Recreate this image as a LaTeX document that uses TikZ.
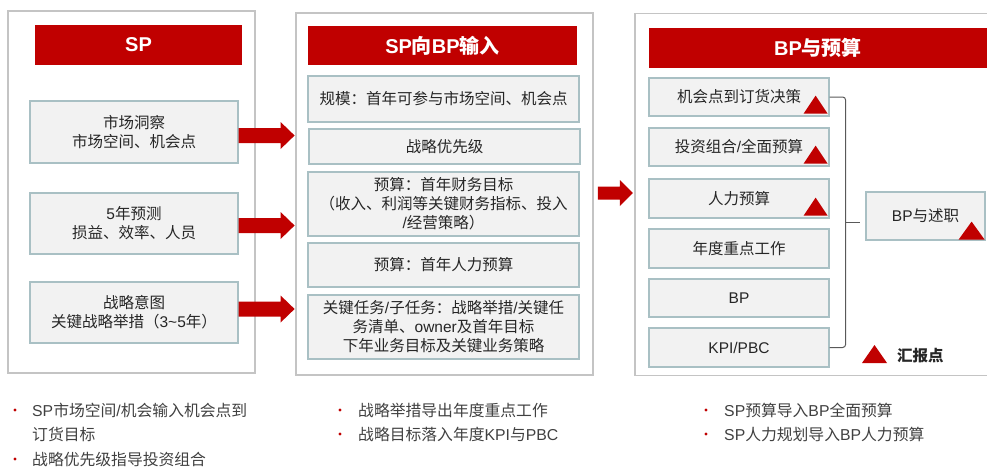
\documentclass[tikz,border=0pt]{standalone}
\usepackage{fontspec}
\setmainfont{Noto Sans CJK SC}
\newfontfamily\latf{Liberation Sans}
\newcommand\LS[1]{{\latf #1}}
\usetikzlibrary{calc}
\definecolor{hred}{HTML}{C00000}
\definecolor{pborder}{HTML}{C4C4C4}
\definecolor{bborder}{HTML}{A9C0C4}
\definecolor{bfill}{HTML}{F2F2F2}
\definecolor{txt}{HTML}{262626}
\definecolor{btxt}{HTML}{404040}
\definecolor{brk}{HTML}{595959}
\begin{document}
\begin{tikzpicture}[x=1pt,y=-1pt,
  panel/.style={draw=pborder,line width=1.5pt,inner sep=0},
  header/.style={fill=hred,text=white,font=\fontsize{20}{24}\selectfont\bfseries,inner sep=0},
  box/.style={draw=bborder,fill=bfill,line width=1.2pt,text=txt,
    font=\fontsize{15.5}{19}\selectfont,align=center,inner sep=0},
  bul/.style={anchor=west,inner sep=0,text=btxt,font=\fontsize{15.8}{19}\selectfont,
    text height=13,text depth=1},
  dot/.style={fill=hred},
  tri/.style={fill=hred},
  blk/.style={fill=hred},
  brace/.style={draw=brk,line width=1pt,rounded corners=3}
]
\useasboundingbox (0,0) rectangle (987,466);
\clip (0,0) rectangle (987,466);

% ---------- panel 1 ----------
\node[panel,minimum width=247,minimum height=362] (p1) at (131.5,192) {};
\node[header,minimum width=207,minimum height=40] (h1) at (138.5,45) {\LS{\bfseries SP}};
\node[box,minimum width=208,minimum height=62] (b1) at (134,132) {市场洞察\\市场空间、机会点};
\node[box,minimum width=208,minimum height=61] (b2) at (134,223.5) {\LS{5}年预测\\损益、效率、人员};
\node[box,minimum width=208,minimum height=61] (b3) at (134,312.5) {战略意图\\关键战略举措（\LS{3\textasciitilde5}年）};

% ---------- panel 2 ----------
\node[panel,minimum width=297,minimum height=362] (p2) at (444.5,194) {};
\node[header,minimum width=269,minimum height=39] (h2) at (442.5,45.5) {\LS{\bfseries SP}向\LS{\bfseries BP}输入};
\node[box,minimum width=271,minimum height=46] (m1) at (443.5,99) {规模：首年可参与市场空间、机会点};
\node[box,minimum width=271,minimum height=35] (m2) at (444.5,146.5) {战略优先级};
\node[box,minimum width=271,minimum height=64] (m3) at (443.5,204) {预算：首年财务目标\\（收入、利润等关键财务指标、投入\\\LS{/}经营策略）};
\node[box,minimum width=271,minimum height=44] (m4) at (443.5,265) {预算：首年人力预算};
\node[box,minimum width=271,minimum height=64] (m5) at (443.5,327) {关键任务\LS{/}子任务：战略举措\LS{/}关键任\\务清单、\LS{owner}及首年目标\\下年业务目标及关键业务策略};

% ---------- panel 3 ----------
\node[panel,minimum width=362,minimum height=362] (p3) at (816,194.5) {};
\node[header,minimum width=338,minimum height=40] (h3) at (818,48) {\LS{\bfseries BP}与预算};
\node[box,minimum width=180,minimum height=38] (r1) at (739,97) {机会点到订货决策};
\node[box,minimum width=180,minimum height=38] (r2) at (739,147) {投资组合\LS{/}全面预算};
\node[box,minimum width=180,minimum height=39] (r3) at (739,198.5) {人力预算};
\node[box,minimum width=180,minimum height=39] (r4) at (739,248.5) {年度重点工作};
\node[box,minimum width=180,minimum height=38] (r5) at (739,298) {\LS{BP}};
\node[box,minimum width=180,minimum height=39] (r6) at (739,347.5) {\LS{KPI/PBC}};
\node[box,minimum width=119,minimum height=48] (bp) at (925.5,216) {\LS{BP}与述职};

% triangles (report points)
\foreach \b in {r1,r2,r3}{
  \fill[tri] ($(\b.south east)+(-2,-3)$) -- ++(-24,0) -- ++(12,-18) -- cycle;
}
\fill[tri] ($(bp.south east)+(-1,-1)$) -- ++(-26,0) -- ++(13,-18) -- cycle;

% brace
\draw[brace] (r1.east) -- ++(16,0) |- (r6.east);
\coordinate (bk) at ($(r1.east)!.5!(r6.east)+(16,0)$);
\coordinate (bkend) at ($(bp.west |- bk)+(-5,0)$);
\draw[brk,line width=1pt] (bk) -- (bkend);

% legend
\coordinate (lg) at (874.5,363);
\fill[tri] (lg) ++(-12.5,0) -- ++(25,0) -- ++(-12.5,-18) -- cycle;
\node[anchor=west,inner sep=0,text=txt,font=\fontsize{15.5}{19}\selectfont\bfseries,
  text height=13,text depth=1] (lgt) at (897,355) {汇报点};

% ---------- block arrows ----------
\foreach \b/\dy in {b1/3.5,b2/2,b3/-3.5}{
  \fill[blk] ($(\b.east)+(0,\dy)$) ++(0,-7.5) -- ++(42,0) -- ++(0,-6) -- ++(14,13.5)
     -- ++(-14,13.5) -- ++(0,-6) -- ++(-42,0) -- cycle;
}
\fill[blk] ($(p2.east)+(4,-1)$) ++(0,-6.5) -- ++(22,0) -- ++(0,-6.5) -- ++(13,13)
     -- ++(-13,13) -- ++(0,-6.5) -- ++(-22,0) -- cycle;

% ---------- bullets ----------
\foreach \x/\y in {15/410,15/459,340/410,340/434,706/410,706/434}{
  \fill[dot] (\x,\y) circle (1.6);
}
\node[bul] (t1) at (32,410) {\LS{SP}市场空间\LS{/}机会输入机会点到};
\node[bul] (t2) at (32,434) {订货目标};
\node[bul] (t3) at (32,459) {战略优先级指导投资组合};
\node[bul] (t4) at (358,410) {战略举措导出年度重点工作};
\node[bul] (t5) at (358,434) {战略目标落入年度\LS{KPI}与\LS{PBC}};
\node[bul] (t6) at (724,410) {\LS{SP}预算导入\LS{BP}全面预算};
\node[bul] (t7) at (724,434) {\LS{SP}人力规划导入\LS{BP}人力预算};
\end{tikzpicture}
\end{document}
